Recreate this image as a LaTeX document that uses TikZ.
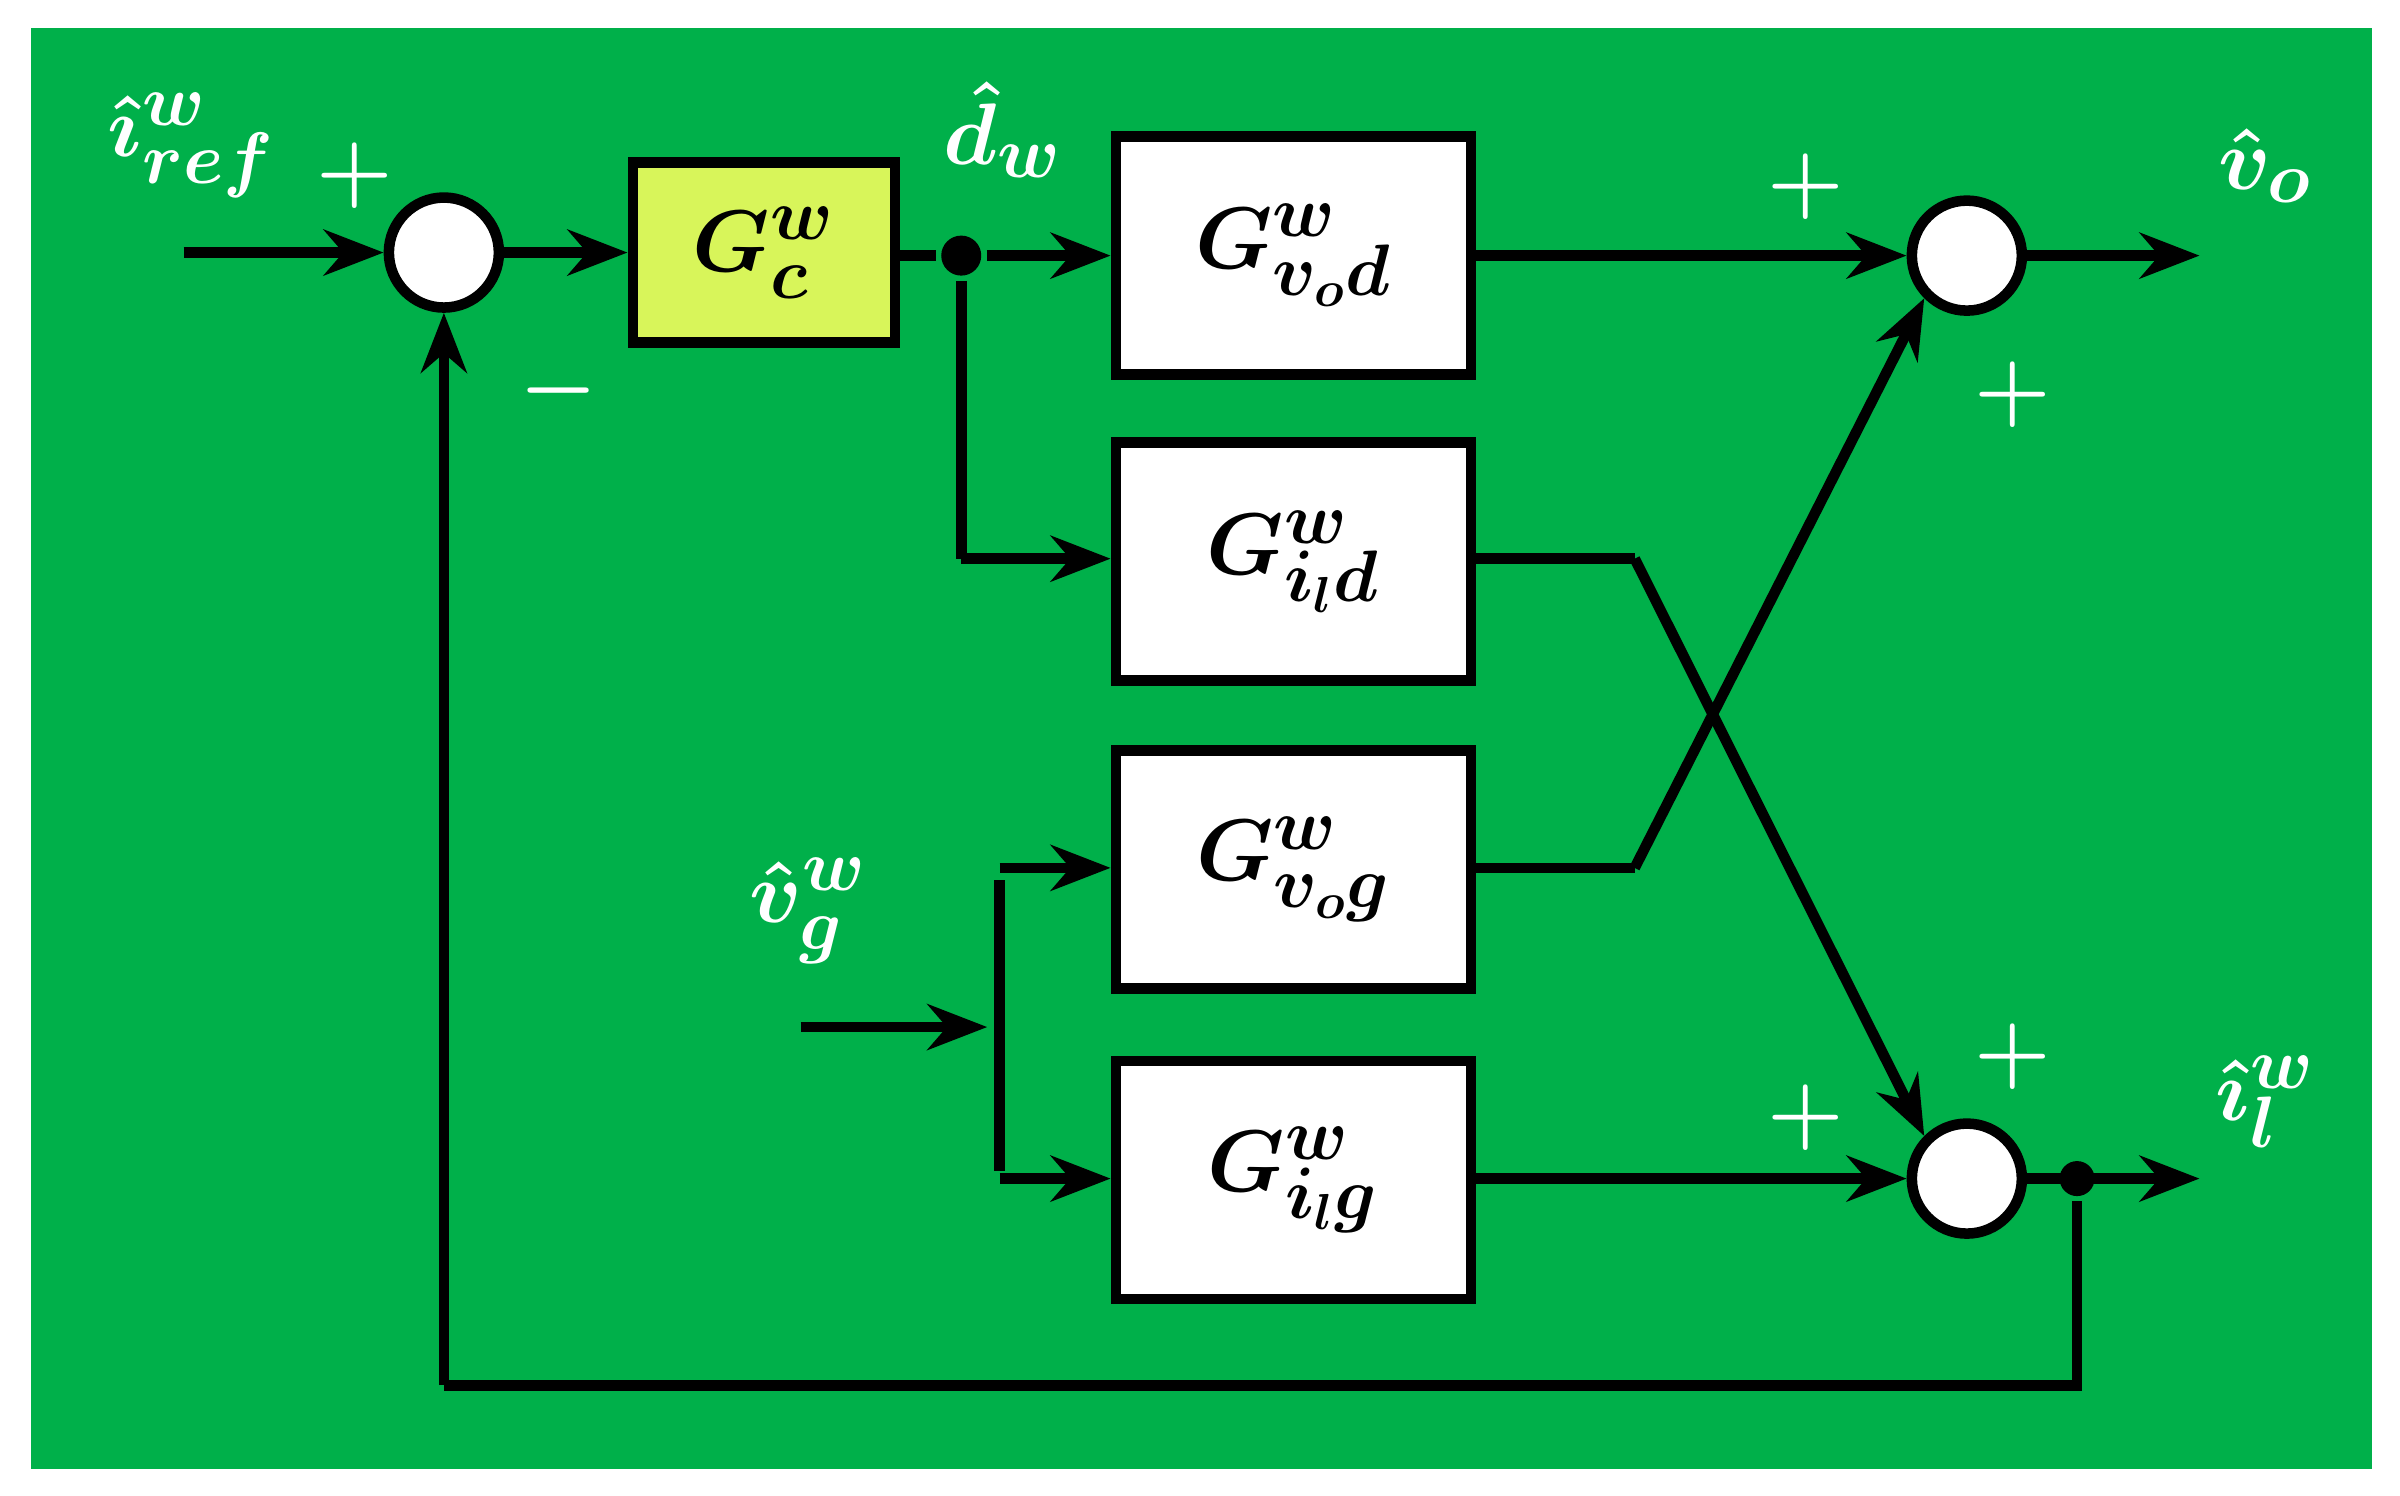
\documentclass[tikz,border=0pt]{standalone}
\usetikzlibrary{arrows.meta}
\definecolor{bg}{HTML}{00B04A}
\definecolor{gc}{HTML}{D8F55A}
\begin{document}
\begin{tikzpicture}[x=0.01531cm,y=-0.01531cm,
  line width=3pt,
  blk/.style={draw,fill=white,minimum width=3.55cm,minimum height=2.38cm,inner sep=0pt,font=\fontsize{30}{34}\selectfont\boldmath},
  sum/.style={draw,fill=white,circle,minimum size=1.1cm,inner sep=0pt},
  dot/.style={circle,fill=black,minimum size=0.4cm,inner sep=0pt},
  lbl/.style={text=white,font=\fontsize{30}{34}\selectfont\boldmath},
  sgn/.style={text=white,font=\fontsize{40}{44}\selectfont\boldmath},
  arr/.style={-{Stealth[length=17pt,width=13pt]}}]
\useasboundingbox (0,0) rectangle (1568,977);
\fill[bg] (20,18) rectangle (1550,960);
% blocks
\node[blk,fill=gc,minimum width=2.62cm,minimum height=1.8cm] (gc) at (499,165) {$G^{w}_{c}$};
\node[blk] (gvod) at (845,167) {$G^{w}_{v_o d}$};
\node[blk] (gild) at (845,367) {$G^{w}_{i_l d}$};
\node[blk] (gvog) at (845,568) {$G^{w}_{v_o g}$};
\node[blk] (gilg) at (845,771) {$G^{w}_{i_l g}$};
\node[sum] (s1) at (290,165) {};
\node[sum] (s2) at (1285,167) {};
\node[sum] (s3) at (1285,770) {};
\node[dot] (d1) at (628,167) {};
\node[dot,minimum size=0.35cm] (d2) at (1357,770) {};
% helper coordinates
\coordinate (iin) at (120,165);
\coordinate (vo) at (1437,167);
\coordinate (il) at (1437,770);
\coordinate (k1) at (628,365);
\coordinate (k2) at (1068,365);
\coordinate (k3) at (1068,567);
\coordinate (vin) at (523,671);
\coordinate (vj) at (645,671);
\coordinate (vt) at (653,567);
\coordinate (vb) at (653,770);
\coordinate (f1) at (1357,905);
\coordinate (f2) at (290,905);
% connectors
\draw[arr] (iin) -- (s1.west);
\draw[arr] (s1.east) -- (gc.west);
\draw (gc.east |- d1) -- (d1);
\draw[arr] (d1) -- (gvod.west);
\draw (d1) -- (k1);
\draw[arr] (k1) -- (gild.west |- k1);
\draw[arr] (gvod.east) -- (s2.west);
\draw[arr] (s2.east) -- (vo);
\draw (gild.east |- k2) -- (k2);
\draw[arr] (k2) -- (s3.north west);
\draw (gvog.east |- k3) -- (k3);
\draw[arr] (k3) -- (s2.south west);
\draw[arr] (vin) -- (vj);
\draw (653,575) -- (653,765);
\draw[arr] (vt) -- (gvog.west |- vt);
\draw[arr] (vb) -- (gilg.west |- vb);
\draw[arr] (gilg.east |- s3) -- (s3.west);
\draw[arr] (s3.east) -- (il);
\draw (d2) -- (f1) -- (f2);
\draw[arr] (f2) -- (s1.south);
% labels
\node[lbl] (t1) at (125,95) {$\hat{\imath}^{w}_{ref}$};
\node[sgn] (p1) at (232,115) {$+$};
\node[sgn] (m1) at (365,255) {$-$};
\node[lbl] (t2) at (655,85) {$\hat{d}_{w}$};
\node[sgn] (p2) at (1180,122) {$+$};
\node[lbl] (t3) at (1480,108) {$\hat{v}_{o}$};
\node[sgn] (p3) at (1315,258) {$+$};
\node[lbl] (t4) at (528,595) {$\hat{v}^{w}_{g}$};
\node[sgn] (p4) at (1315,690) {$+$};
\node[sgn] (p5) at (1180,730) {$+$};
\node[lbl] (t5) at (1480,720) {$\hat{\imath}^{w}_{l}$};
\end{tikzpicture}
\end{document}
